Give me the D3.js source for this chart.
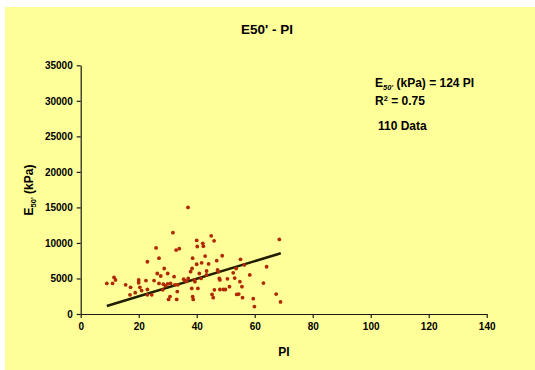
<!DOCTYPE html>
<html>
<head>
<meta charset="utf-8">
<script src="https://cdn.jsdelivr.net/npm/d3@7"></script>
<style>
  body { margin: 0; background: #fff; }
  svg { display: block; font-family: "Liberation Sans", Arial, sans-serif; }
</style>
</head>
<body>
<svg width="535" height="370"></svg>
<script>
const piValues = [9, 11, 11.5, 12, 15.5, 17.2, 17, 18.8, 20, 20, 20.4, 21, 22.5, 23, 23, 23, 24.5, 25.3,
  26, 26.4, 27, 27, 27.6, 28.3, 28.8, 29.2, 30, 30.3, 30.8, 31.8, 32.2, 32.5, 32.9, 33.3, 33.1, 34,
  37, 37.1, 37.9, 38.4, 38.6, 38.3, 38.6, 38.8, 39.2, 39.4, 40, 40, 40.2, 40.4, 40.9, 41.7, 42.1, 42.3,
  42.9, 43.4, 43.4, 44.1, 45, 45.3, 45.7, 46, 46.1, 46.9, 47.2, 47.5, 47.8, 48, 48, 48.8, 49.2, 49.9,
  50.6, 51.3, 52.6, 53.1, 53.6, 53.8, 54.5, 54.9, 55.1, 55.6, 55.8, 56.4, 58.3, 59.5, 59.9, 63, 64.1,
  67.4, 68.5, 68.9, 28.5, 30, 31, 33.5, 35.5, 36, 36.5, 41.5];
const e50Values = [4300, 4300, 5150, 4800, 4100, 3750, 2700, 3000, 4800, 4400, 3750, 3300, 4700, 7350, 3450, 2700, 2700, 4700,
  9300, 5700, 4300, 7850, 5350, 3400, 6400, 3950, 5700, 2050, 2450, 11450, 5250, 4100, 9000, 3150, 2050, 9200,
  15000, 5000, 5950, 6400, 7850, 3600, 2450, 2050, 4800, 4550, 7000, 10350, 9500, 3600, 5700, 7200, 9950, 9550,
  8150, 6050, 5500, 7050, 11000, 2750, 2300, 10300, 3400, 7500, 6200, 5950, 5000, 4800, 3450, 8200, 3450, 3450,
  4950, 3850, 5800, 5050, 6400, 2750, 2800, 4550, 7700, 3850, 2300, 6900, 5500, 2150, 1050, 4350, 6650,
  2800, 10500, 1700, 4200, 4250, 4300, 4100, 4900, 4700, 4600, 5000];

const slope = 124;           // E50' = 124 PI
const r2Text = "0.75";
const nData = 110;
const fitRange = [9, 69];
const xTicks = [0, 20, 40, 60, 80, 100, 120, 140];
const yTicks = [0, 5000, 10000, 15000, 20000, 25000, 30000, 35000];

const svg = d3.select("svg");
const bg = "#ffff99";

svg.append("rect")
  .attr("x", 5).attr("y", 7)
  .attr("width", 530).attr("height", 363)
  .attr("fill", bg);

const x = d3.scaleLinear().domain([0, 140]).range([80.7, 486.7]);
const y = d3.scaleLinear().domain([0, 35000]).range([314, 65.3]);

const xAxis = svg.append("g")
  .attr("transform", "translate(0," + y(0) + ")")
  .call(d3.axisBottom(x).tickValues(xTicks).tickSize(4).tickSizeOuter(0).tickPadding(5));
const yAxis = svg.append("g")
  .attr("transform", "translate(" + x(0) + ",0)")
  .call(d3.axisLeft(y).tickValues(yTicks).tickFormat(d3.format("d")).tickSize(4).tickSizeOuter(0).tickPadding(4));

[xAxis, yAxis].forEach(function(g) {
  g.selectAll("path, line").attr("stroke", "#1a1a1a").attr("stroke-width", 1.2);
  g.selectAll("text")
    .attr("fill", "#000")
    .style("font-size", "10px")
    .style("font-weight", "bold")
    .style("font-family", "'Liberation Sans', Arial, sans-serif");
});

// trend line
svg.append("line")
  .attr("x1", x(fitRange[0])).attr("y1", y(slope * fitRange[0]))
  .attr("x2", x(fitRange[1])).attr("y2", y(slope * fitRange[1]))
  .attr("stroke", "#1f1f00")
  .attr("stroke-width", 2.5);

// data points
const points = piValues.map(function(p, i) { return { pi: p, e: e50Values[i] }; });
svg.selectAll(".pt")
  .data(points)
  .enter().append("circle")
  .attr("class", "pt")
  .attr("cx", function(d) { return x(d.pi); })
  .attr("cy", function(d) { return y(d.e); })
  .attr("r", 1.9)
  .attr("fill", "#b02800");

// title
svg.append("text")
  .attr("x", 267).attr("y", 34)
  .attr("text-anchor", "middle")
  .style("font-size", "13.5px").style("font-weight", "bold")
  .text("E50' - PI");

// x label
svg.append("text")
  .attr("x", 284).attr("y", 356)
  .attr("text-anchor", "middle")
  .style("font-size", "12px").style("font-weight", "bold")
  .text("PI");

// y label with subscript
const yl = svg.append("text")
  .attr("transform", "translate(33,190) rotate(-90)")
  .attr("text-anchor", "middle")
  .style("font-size", "12px").style("font-weight", "bold");
yl.append("tspan").text("E");
yl.append("tspan").attr("dy", 3).style("font-size", "7.5px").text("50'");
yl.append("tspan").attr("dy", -3).text(" (kPa)");

// equation annotation
const eq = svg.append("text")
  .attr("x", 375).attr("y", 87)
  .style("font-size", "12px").style("font-weight", "bold");
eq.append("tspan").text("E");
eq.append("tspan").attr("dy", 3).style("font-size", "7.5px").style("font-style", "italic").text("50'");
eq.append("tspan").attr("dy", -3).text(" (kPa) = " + slope + " PI");

const r2 = svg.append("text")
  .attr("x", 375).attr("y", 105)
  .style("font-size", "12px").style("font-weight", "bold");
r2.append("tspan").text("R");
r2.append("tspan").attr("dy", -4.5).style("font-size", "7.5px").text("2");
r2.append("tspan").attr("dy", 4.5).text(" = " + r2Text);

svg.append("text")
  .attr("x", 378).attr("y", 130)
  .style("font-size", "12px").style("font-weight", "bold")
  .text(nData + " Data");
</script>
</body>
</html>
